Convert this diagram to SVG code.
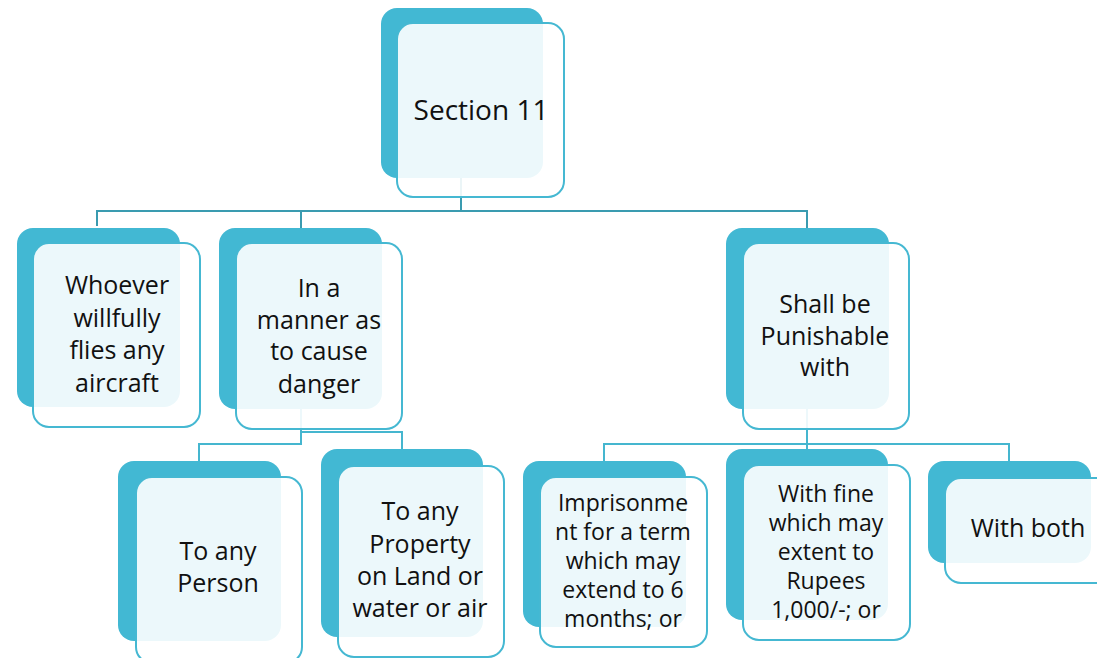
<svg xmlns="http://www.w3.org/2000/svg" width="1097" height="658" viewBox="0 0 1097 658">
<style>
.bk{fill:#42B8D3}
.fr{fill:#FFFFFF;fill-opacity:0.9;stroke:#45B8D2;stroke-width:2}
.c1{fill:none;stroke:#3A9BB0;stroke-width:2}
.c2{fill:none;stroke:#45B6CF;stroke-width:2}
text{font-family:"Open Sans","Liberation Sans",sans-serif;fill:#111;text-anchor:middle}
.t1{font-size:28px}
.t2{font-size:25px}
.t3{font-size:23px}
</style>
<rect width="1097" height="658" fill="#FFFFFF"/>
<g id="connectors">
<path class="c1" d="M461 178V211M97 226V211H807V228M301 211V228"/>
<path class="c2" d="M301 409V444H199V461M301 432H402V449"/>
<path class="c2" d="M807 409V449M604 461V444H1009V461"/>
</g>
<g id="n-section11">
<rect class="bk" x="381" y="8" width="162" height="170" rx="16"/>
<rect class="fr" x="397" y="23" width="167" height="174" rx="16"/>
<text class="t1" x="481" y="120">Section 11</text>
</g>
<g id="n-whoever">
<rect class="bk" x="17" y="228" width="163" height="179" rx="16"/>
<rect class="fr" x="33" y="243" width="167" height="184" rx="16"/>
<text class="t2" x="117"><tspan x="117" y="294">Whoever</tspan><tspan x="117" y="327">willfully</tspan><tspan x="117" y="359">flies any</tspan><tspan x="117" y="392">aircraft</tspan></text>
</g>
<g id="n-manner">
<rect class="bk" x="219" y="228" width="163" height="181" rx="16"/>
<rect class="fr" x="236" y="243" width="166" height="186" rx="16"/>
<text class="t2" x="319"><tspan x="319" y="297">In a</tspan><tspan x="319" y="329">manner as</tspan><tspan x="319" y="360">to cause</tspan><tspan x="319" y="393">danger</tspan></text>
</g>
<g id="n-punishable">
<rect class="bk" x="726" y="228" width="163" height="181" rx="16"/>
<rect class="fr" x="743" y="243" width="166" height="186" rx="16"/>
<text class="t2" x="825"><tspan x="825" y="313">Shall be</tspan><tspan x="825" y="345">Punishable</tspan><tspan x="825" y="376">with</tspan></text>
</g>
<g id="n-person">
<rect class="bk" x="118" y="461" width="163" height="180" rx="16"/>
<rect class="fr" x="136" y="477" width="166" height="186" rx="16"/>
<text class="t2" x="218"><tspan x="218" y="560">To any</tspan><tspan x="218" y="592">Person</tspan></text>
</g>
<g id="n-property">
<rect class="bk" x="321" y="449" width="162" height="188" rx="16"/>
<rect class="fr" x="338" y="466" width="166" height="191" rx="16"/>
<text class="t2" x="420"><tspan x="420" y="520">To any</tspan><tspan x="420" y="553">Property</tspan><tspan x="420" y="585">on Land or</tspan><tspan x="420" y="617">water or air</tspan></text>
</g>
<g id="n-imprisonment">
<rect class="bk" x="523" y="461" width="163" height="166" rx="16"/>
<rect class="fr" x="540" y="477" width="167" height="170" rx="16"/>
<text class="t3" x="623"><tspan x="623" y="511">Imprisonme</tspan><tspan x="623" y="540">nt for a term</tspan><tspan x="623" y="569">which may</tspan><tspan x="623" y="598">extend to 6</tspan><tspan x="623" y="627">months; or</tspan></text>
</g>
<g id="n-fine">
<rect class="bk" x="726" y="449" width="162" height="171" rx="16"/>
<rect class="fr" x="743" y="465" width="167" height="175" rx="16"/>
<text class="t3" x="826"><tspan x="826" y="502">With fine</tspan><tspan x="826" y="531">which may</tspan><tspan x="826" y="560">extent to</tspan><tspan x="826" y="589">Rupees</tspan><tspan x="826" y="618">1,000/-; or</tspan></text>
</g>
<g id="n-both">
<rect class="bk" x="928" y="461" width="163" height="102" rx="16"/>
<rect class="fr" x="945" y="478" width="167" height="105" rx="16"/>
<text class="t2" x="1028" y="537">With both</text>
</g>
</svg>
